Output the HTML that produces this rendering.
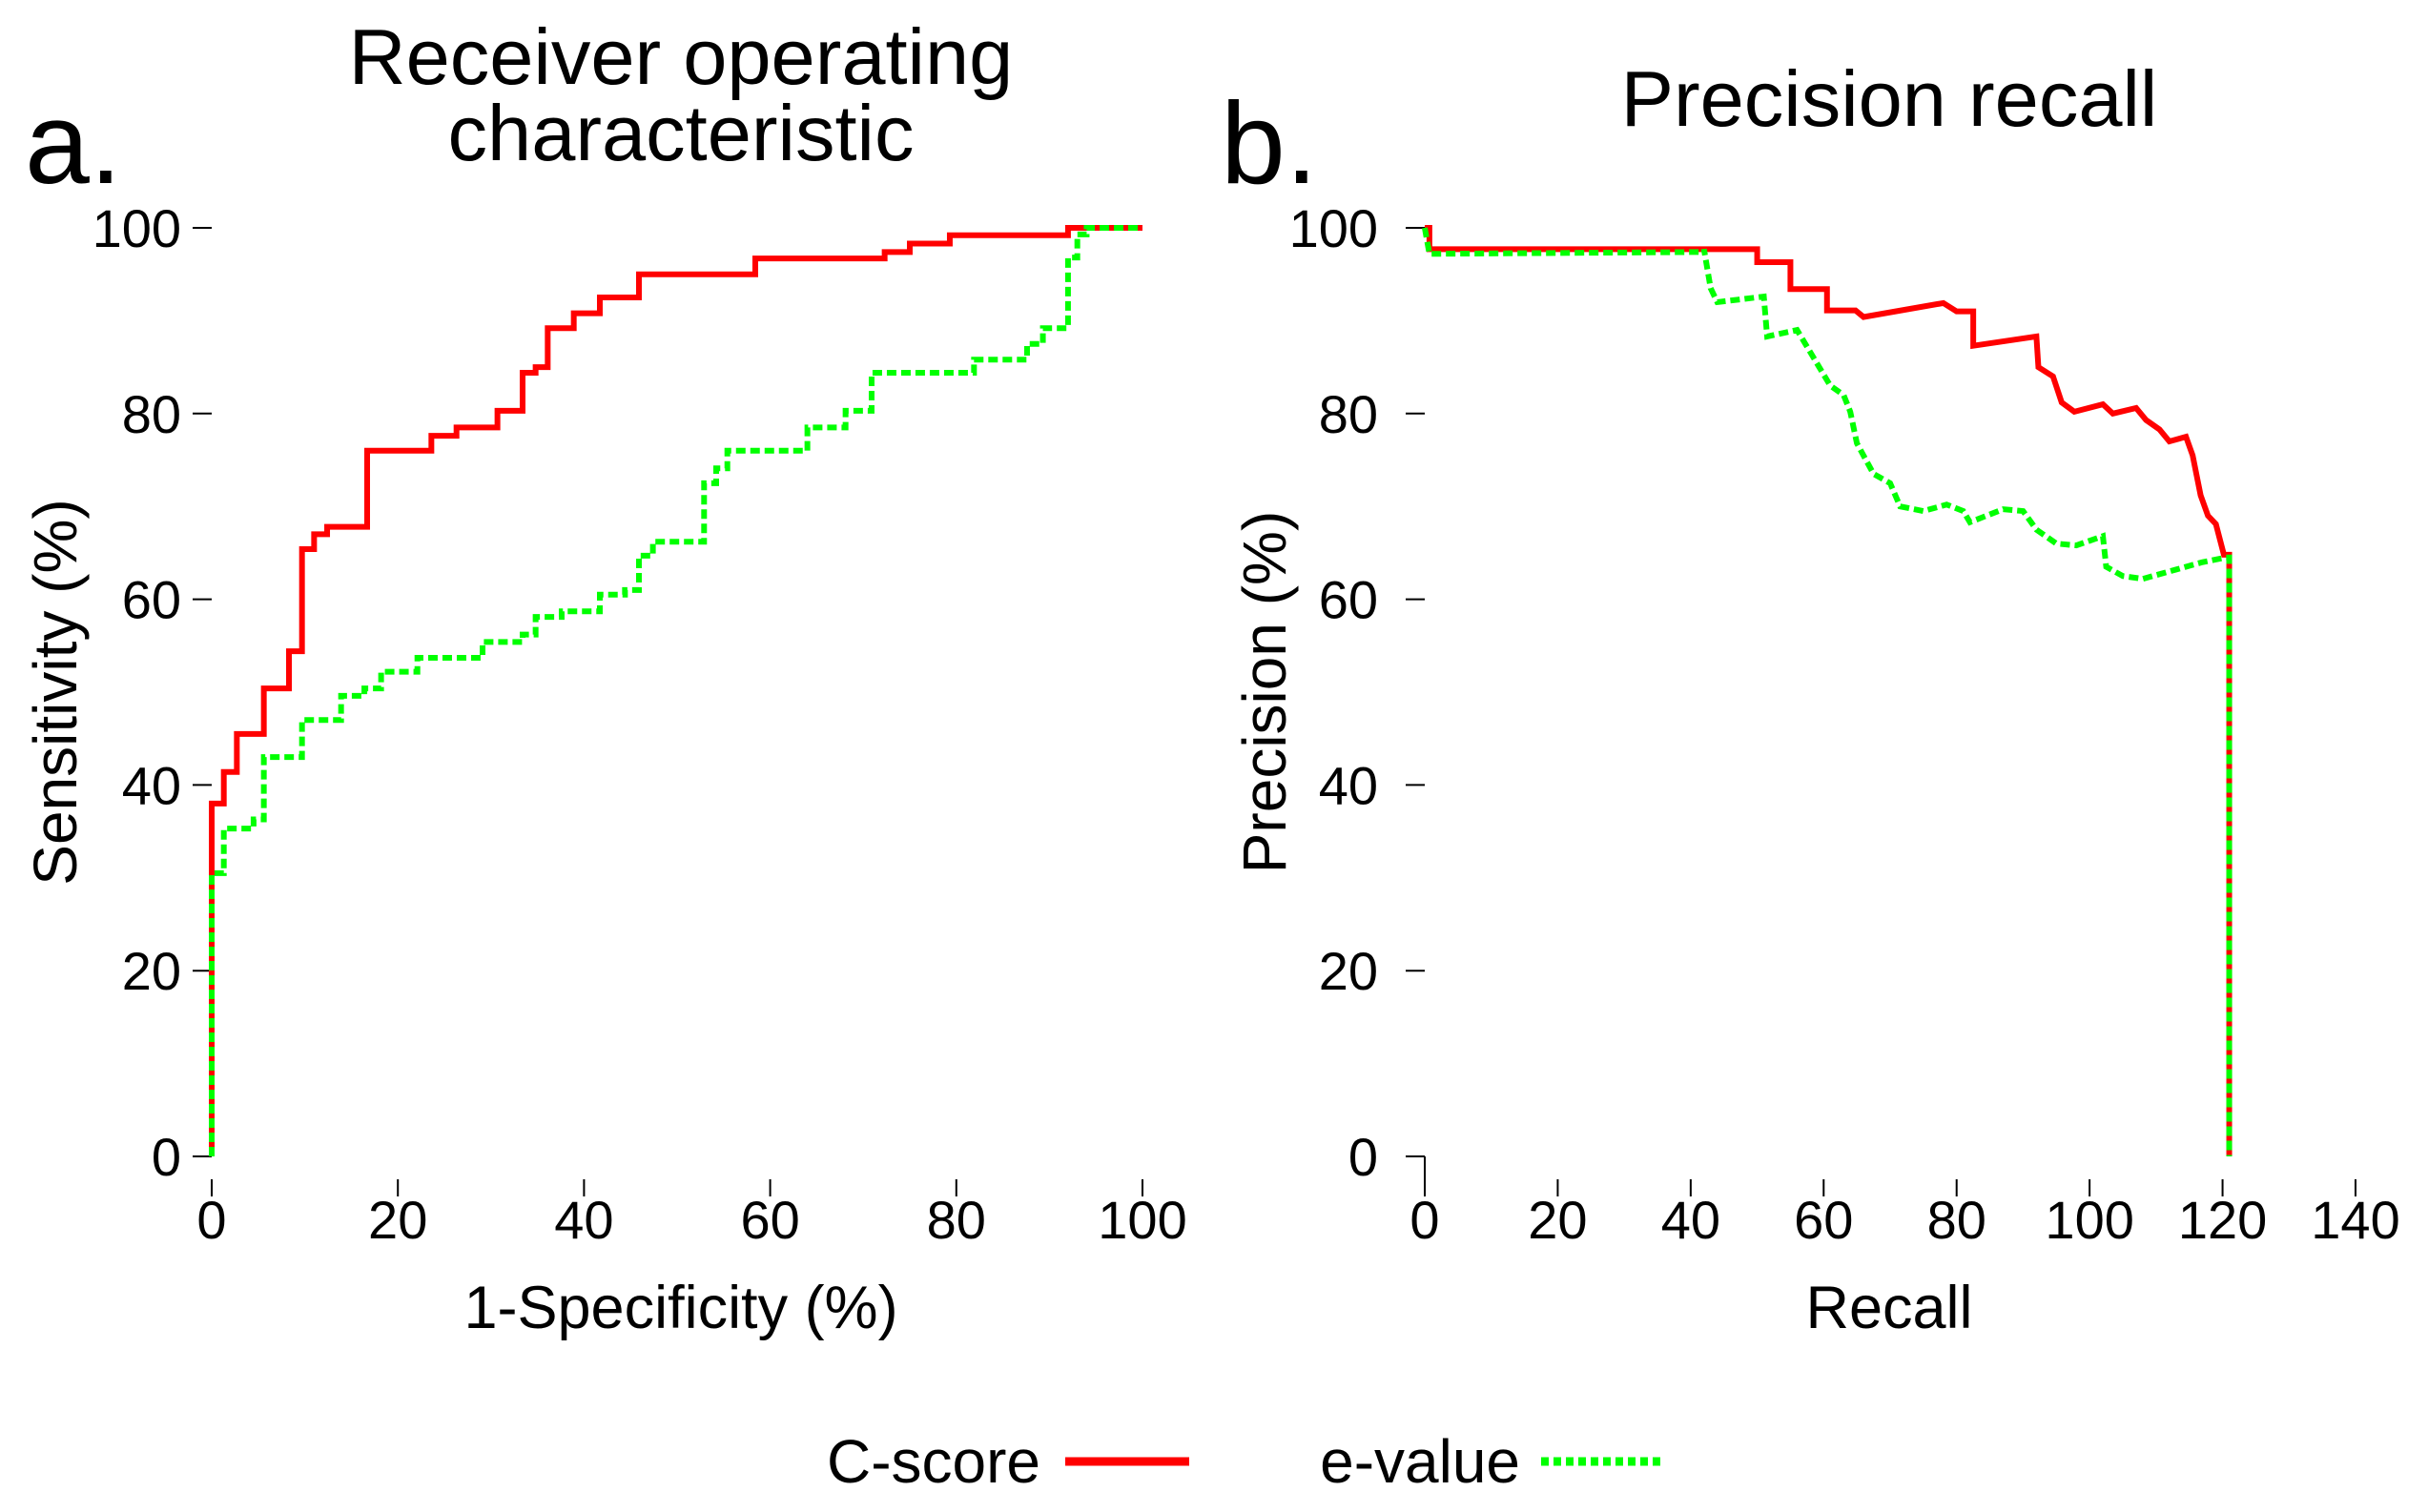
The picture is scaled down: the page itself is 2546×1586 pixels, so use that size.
<!DOCTYPE html>
<html><head><meta charset="utf-8"><style>
body{margin:0;background:#fff}
svg{display:block;font-family:"Liberation Sans",sans-serif}
</style></head><body>
<svg id="chart" width="2546" height="1586" viewBox="0 0 2546 1586">
<g fill="#000">
<text x="26" y="192" font-size="122">a.</text>
<text x="1280" y="192" font-size="122">b.</text>
<text x="714" y="88" font-size="83" text-anchor="middle">Receiver operating</text>
<text x="714" y="168" font-size="83" text-anchor="middle">characteristic</text>
<text x="1981" y="132" font-size="83" text-anchor="middle">Precision recall</text>
<text x="714" y="1393" font-size="63" text-anchor="middle">1-Specificity (%)</text>
<text x="1981" y="1393" font-size="63" text-anchor="middle">Recall</text>
<text transform="translate(80,726) rotate(-90)" font-size="64" text-anchor="middle">Sensitivity (%)</text>
<text transform="translate(1348,726) rotate(-90)" font-size="64" text-anchor="middle">Precision (%)</text>
<text x="1091" y="1555" font-size="64" text-anchor="end">C-score</text>
<text x="1594" y="1555" font-size="64" text-anchor="end">e-value</text>
</g>
<line x1="1117" y1="1533" x2="1247" y2="1533" stroke="#f00" stroke-width="9"/>
<line x1="1616" y1="1533" x2="1745" y2="1533" stroke="#0f0" stroke-width="9" stroke-dasharray="8,5"/>
<g id="roc"></g>
<g id="pr"></g>
</svg>
<script>
const yTicks=[0,20,40,60,80,100];
const rocXTicks=[0,20,40,60,80,100];
const prXTicks=[0,20,40,60,80,100,120,140];
// ROC steps: at x, y jumps to value
const rocRedX=[0,1.3,2.7,5.6,8.3,9.7,11,12.4,16.7,23.6,26.3,30.7,33.4,34.8,36.1,38.9,41.7,45.9,58.4,72.3,75,79.3,92,100];
const rocRedY=[38,41.4,45.5,50.4,54.4,65.4,67,67.8,76,77.6,78.5,80.3,84.4,85,89.2,90.8,92.5,95,96.7,97.4,98.3,99.2,100,100];
const rocGreenX=[0,1.3,4.5,5.6,9.7,13.9,16.4,18.2,22.1,29.1,33.4,34.8,37.6,41.7,44.4,45.9,47.4,52.9,54.2,55.4,64,68.1,70.9,81.9,87.6,89.3,92,93,94,100];
const rocGreenY=[30.5,35.3,36.3,43,47,49.6,50.4,52.2,53.7,55.4,56.2,58.1,58.7,60.5,61,64.7,66.2,72.5,74.1,76,78.5,80.3,84.4,85.8,87.5,89.2,96.8,99.3,100,100];
// PR polylines
const prRedX=[0,0.7,0.7,50,50,55,55,60.5,60.5,64.8,66,66,78,80,82.5,82.5,92,92.3,94.5,95.8,97.7,102,103.5,107,108.5,110.5,112,114.5,115.5,116.7,117.8,119,120.2,121,121];
const prRedY=[100,100,97.7,97.7,96.3,96.3,93.4,93.4,91.1,91.1,90.4,90.4,91.9,91,91,87.3,88.3,85,84,81.2,80.2,81,80,80.6,79.3,78.3,77,77.5,75.5,71.2,69,68.1,64.8,64.8,0];
const prGreenX=[0,0.7,42,42,43,44,51,51.5,56,58.5,61,63,64,65,67.5,70,71.5,75,78.5,81,82,87,90,92,95,98,102,102.5,105,108,113,117,120.5,121,121];
const prGreenY=[100,97.2,97.4,97.7,93.5,92,92.6,88.3,89,86,83,82,80.2,76.8,73.5,72.5,70,69.5,70.2,69.5,68.3,69.7,69.5,67.5,66,65.8,66.8,63.5,62.5,62.2,63.2,64,64.5,64.5,0];

const NS='http://www.w3.org/2000/svg';
function mk(parent,tag,attrs){const e=document.createElementNS(NS,tag);for(const k in attrs)e.setAttribute(k,attrs[k]);parent.appendChild(e);return e;}
const Y=v=>1213-(1213-239)*v/100;
const rocX=v=>222+(1198-222)*v/100;
const prX=v=>1494+(2470-1494)*v/140;

function axes(g,xf,xTicks,yAxisX,lblX,name){
  yTicks.forEach(t=>{
    const l=mk(g,'line',{x1:yAxisX-20,x2:yAxisX,y1:Y(t),y2:Y(t),stroke:'#000','stroke-width':2});
    
    
    const tx=mk(g,'text',{x:lblX,y:Y(t)+20,'font-size':56,'text-anchor':'end'});
    tx.textContent=t;
    
    
  });
  xTicks.forEach(t=>{
    const l=mk(g,'line',{x1:xf(t),x2:xf(t),y1:1237,y2:1255,stroke:'#000','stroke-width':2});
    
    
    const tx=mk(g,'text',{x:xf(t),y:1299,'font-size':56,'text-anchor':'middle'});
    tx.textContent=t;
    
    
  });
}
const roc=document.getElementById('roc'), pr=document.getElementById('pr');
axes(roc,rocX,rocXTicks,222,190,'roc');
axes(pr,prX,prXTicks,1494,1445,'pr');
const c=mk(pr,'line',{x1:1494,x2:1494,y1:1213,y2:1237,stroke:'#000','stroke-width':2});



function stepPath(xs,ys){let d='M'+rocX(0)+','+Y(0);for(let i=0;i<xs.length;i++){d+=' H'+rocX(xs[i])+' V'+Y(ys[i]);}return d;}
function polyPath(xs,ys){return xs.map((x,i)=>(i?'L':'M')+prX(x)+','+Y(ys[i])).join(' ');}
const r1=mk(roc,'path',{d:stepPath(rocRedX,rocRedY),fill:'none',stroke:'#f00','stroke-width':6});


const r2=mk(roc,'path',{d:stepPath(rocGreenX,rocGreenY),fill:'none',stroke:'#0f0','stroke-width':6,'stroke-dasharray':'10,5'});


const p1=mk(pr,'path',{d:polyPath(prRedX,prRedY),fill:'none',stroke:'#f00','stroke-width':6});


const p2=mk(pr,'path',{d:polyPath(prGreenX,prGreenY),fill:'none',stroke:'#0f0','stroke-width':6,'stroke-dasharray':'10,5'});


</script>
</body></html>
